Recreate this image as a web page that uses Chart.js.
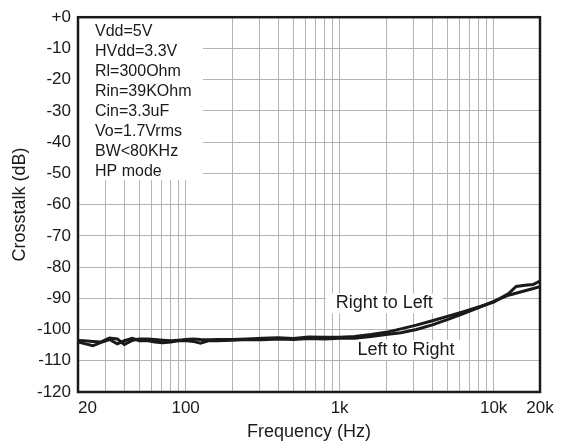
<!DOCTYPE html>
<html>
<head>
<meta charset="utf-8">
<script src="https://cdn.jsdelivr.net/npm/chart.js@4.4.1/dist/chart.umd.min.js"></script>
<style>
  html, body { margin: 0; padding: 0; background: #fff; }
  #wrap { width: 564px; height: 444px; }
</style>
</head>
<body>
<div id="wrap"><canvas id="chart" width="564" height="444"></canvas></div>
<script>
// frequencies (Hz) and crosstalk (dB)
const freqRL = [20, 22, 25, 28, 32, 36, 40, 45, 50, 56, 63, 71, 80, 90, 100, 112, 125, 140, 160, 200, 250, 315, 400, 500, 630, 800, 1000, 1250, 1600, 2000, 2500, 3150, 4000, 5000, 6300, 8000, 10000, 12500, 14000, 16000, 18000, 20000];
const dbRL = [-103.5, -103.6, -103.8, -104, -102.7, -103, -104.8, -103.5, -103, -103, -103.2, -103.4, -103.6, -103.4, -103.2, -103.0, -103.2, -103.3, -103.2, -103.2, -103.0, -102.8, -102.6, -102.9, -102.4, -102.5, -102.5, -102.2, -101.6, -100.9, -99.8, -98.6, -97.2, -95.8, -94.4, -92.8, -91.2, -88.5, -86.2, -85.8, -85.6, -84.5];

const freqLR = [20, 22, 25, 28, 32, 36, 40, 45, 50, 56, 63, 71, 80, 90, 100, 112, 125, 140, 160, 200, 250, 315, 400, 500, 630, 800, 1000, 1250, 1600, 2000, 2500, 3150, 4000, 5000, 6300, 8000, 10000, 12500, 16000, 20000];
const dbLR = [-104, -104.5, -105.2, -104.2, -103.2, -104.6, -103.6, -102.8, -103.6, -103.5, -104, -104.2, -104, -103.6, -103.5, -103.8, -104.4, -103.6, -103.6, -103.4, -103.2, -103.3, -103.0, -103.2, -102.9, -103, -102.8, -102.8, -102.2, -101.6, -101, -100, -98.5, -96.8, -95, -93, -91, -89, -87.6, -86.3];

const xGridValues = [20, 30, 40, 50, 60, 70, 80, 90, 100, 200, 300, 400, 500, 600, 700, 800, 900, 1000, 2000, 3000, 4000, 5000, 6000, 7000, 8000, 9000, 10000, 20000];
const xLabels = { 20: '    20', 100: '100', 1000: '1k', 10000: '10k', 20000: '20k' };

const conditionLines = ['Vdd=5V', 'HVdd=3.3V', 'Rl=300Ohm', 'Rin=39KOhm', 'Cin=3.3uF', 'Vo=1.7Vrms', 'BW<80KHz', 'HP mode'];

// curve labels, anchored at (Hz, dB)
const curveLabels = [
    { text: 'Right to Left', freq: 1950, db: -91.6 },
    { text: 'Left to Right', freq: 2700, db: -106.5 }
];

const FONT = '"Liberation Sans", Arial, sans-serif';
const INK = '#1a1a1a';

function toPoints(xs, ys) {
    return xs.map((x, i) => ({ x: x, y: ys[i] }));
}

const overlayPlugin = {
    id: 'overlay',
    beforeDatasetsDraw(chart) {
        const ctx = chart.ctx;
        const area = chart.chartArea;
        const xs = chart.scales.x;
        const ys = chart.scales.y;
        ctx.save();
        // white box with the test conditions
        ctx.fillStyle = '#fff';
        ctx.fillRect(area.left, area.top, 125, 163);
        ctx.fillStyle = INK;
        ctx.font = '16px ' + FONT;
        ctx.textBaseline = 'middle';
        ctx.textAlign = 'left';
        conditionLines.forEach((line, i) => {
            ctx.fillText(line, area.left + 17, area.top + 14 + i * 20);
        });
        // curve labels with white backing
        ctx.font = '18px ' + FONT;
        ctx.textAlign = 'center';
        curveLabels.forEach(lbl => {
            const px = xs.getPixelForValue(lbl.freq);
            const py = ys.getPixelForValue(lbl.db);
            const w = ctx.measureText(lbl.text).width + 20;
            ctx.fillStyle = '#fff';
            ctx.fillRect(px - w / 2, py - 10, w, 20);
            ctx.fillStyle = INK;
            ctx.fillText(lbl.text, px, py);
        });
        ctx.restore();
    },
    afterDatasetsDraw(chart) {
        const ctx = chart.ctx;
        const area = chart.chartArea;
        ctx.save();
        ctx.strokeStyle = INK;
        ctx.lineWidth = 2.5;
        ctx.strokeRect(area.left, area.top, area.right - area.left, area.bottom - area.top);
        ctx.restore();
    }
};

new Chart(document.getElementById('chart').getContext('2d'), {
    type: 'line',
    data: {
        datasets: [
            {
                label: 'Right to Left',
                data: toPoints(freqRL, dbRL),
                borderColor: INK,
                borderWidth: 3,
                pointRadius: 0,
                tension: 0,
                fill: false
            },
            {
                label: 'Left to Right',
                data: toPoints(freqLR, dbLR),
                borderColor: INK,
                borderWidth: 3,
                pointRadius: 0,
                tension: 0,
                fill: false
            }
        ]
    },
    options: {
        responsive: false,
        animation: false,
        layout: { padding: { left: 0, right: 24, top: 10, bottom: 0 } },
        plugins: {
            legend: { display: false },
            tooltip: { enabled: false }
        },
        scales: {
            x: {
                type: 'logarithmic',
                min: 20,
                max: 20000,
                afterBuildTicks: scale => {
                    scale.ticks = xGridValues.map(v => ({ value: v }));
                },
                afterFit: scale => {
                    scale.height = 52;
                },
                ticks: {
                    autoSkip: false,
                    maxRotation: 0,
                    padding: 6,
                    color: INK,
                    font: { family: FONT, size: 17 },
                    callback: value => xLabels[value] || ''
                },
                grid: { color: '#b4b4b4', lineWidth: 1, drawTicks: false },
                border: { display: false },
                title: {
                    display: true,
                    text: 'Frequency (Hz)',
                    color: INK,
                    font: { family: FONT, size: 18 },
                    padding: { top: 2, bottom: 1 }
                }
            },
            y: {
                min: -120,
                max: 0,
                afterFit: scale => {
                    scale.width = 78;
                },
                ticks: {
                    stepSize: 10,
                    padding: 7,
                    color: INK,
                    font: { family: FONT, size: 17 },
                    callback: value => value === 0 ? '+0' : value
                },
                grid: { color: '#b4b4b4', lineWidth: 1, drawTicks: false },
                border: { display: false },
                title: {
                    display: true,
                    text: 'Crosstalk (dB)',
                    color: INK,
                    font: { family: FONT, size: 18 },
                    padding: { top: 9, bottom: 0 }
                }
            }
        }
    },
    plugins: [overlayPlugin]
});
</script>
</body>
</html>
